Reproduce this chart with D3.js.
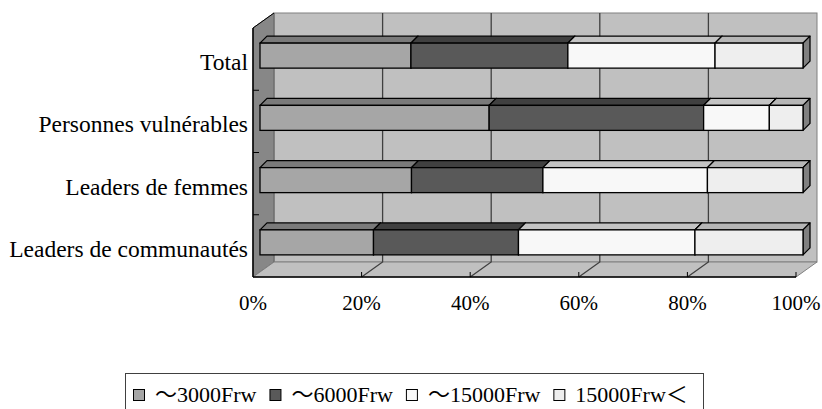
<!DOCTYPE html>
<html>
<head>
<meta charset="utf-8">
<script src="https://cdn.jsdelivr.net/npm/d3@7"></script>
<style>
	body { margin: 0; background: #fff; }
	svg { display: block; }
	text { font-family: "Liberation Serif", "Noto Sans CJK JP", serif; fill: #000; }
</style>
</head>
<body>
<div id="chart"></div>
<script>
var categories = ["Total", "Personnes vulnérables", "Leaders de femmes", "Leaders de communautés"];
var seriesNames = ["～3000Frw", "～6000Frw", "～15000Frw", "15000Frw＜"];
var upTo3000 = [27.8, 42.2, 27.9, 20.9];
var upTo6000 = [28.9, 39.5, 24.2, 26.7];
var upTo15000 = [27.1, 12.1, 30.3, 32.5];
var over15000 = [16.2, 6.2, 17.6, 19.9];
var tickValues = [0, 20, 40, 60, 80, 100];
var tickLabels = ["0%", "20%", "40%", "60%", "80%", "100%"];

var frontColors = ["#a6a6a6", "#595959", "#f8f8f8", "#eeeeee"];
var topColors = ["#7a7a7a", "#404040", "#c4c4c4", "#b6b6b6"];

var width = 822, height = 409;
var wallDx = 21, wallDy = -15;   // depth of the box
var barOffX = 7, barOffY = -3.5; // bar front face offset from front plane
var barDx = 7, barDy = -7;       // bar depth
var barHeight = 25;

var svg = d3.select("#chart")
  .append("svg")
    .attr("width", width)
    .attr("height", height);

var x = d3.scaleLinear().domain([0, 100]).range([253, 796]);
var y = d3.scaleBand().domain(categories).range([28, 277]);

var rows = categories.map(function(c, i) {
	return { cat: c, s0: upTo3000[i], s1: upTo6000[i], s2: upTo15000[i], s3: over15000[i] };
});
var stack = d3.stack().keys(["s0", "s1", "s2", "s3"])(rows);

var x0 = x(0), x1 = x(100), yTop = y.range()[0], yBot = y.range()[1];

//back wall
svg.append("rect")
    .attr("x", x0 + wallDx)
    .attr("y", yTop + wallDy)
    .attr("width", x1 - x0)
    .attr("height", yBot - yTop)
    .style("fill", "#c0c0c0")
    .style("stroke", "#808080")
    .style("stroke-width", "1px");

//left wall
svg.append("polygon")
    .attr("points", [[x0, yTop], [x0 + wallDx, yTop + wallDy], [x0 + wallDx, yBot + wallDy], [x0, yBot]].join(" "))
    .style("fill", "#878787")
    .style("stroke", "#606060")
    .style("stroke-width", "1px");

//floor
svg.append("polygon")
    .attr("points", [[x0, yBot], [x0 + wallDx, yBot + wallDy], [x1 + wallDx, yBot + wallDy], [x1, yBot]].join(" "))
    .style("fill", "#c0c0c0")
    .style("stroke", "#808080")
    .style("stroke-width", "1px");

//gridlines on back wall and floor
svg.selectAll(".grid")
    .data(tickValues.slice(1, -1))
  .enter().append("polyline")
    .attr("class", "grid")
    .attr("points", function(d) {
		return [[x(d), yBot], [x(d) + wallDx, yBot + wallDy], [x(d) + wallDx, yTop + wallDy]].join(" ");
    })
    .style("fill", "none")
    .style("stroke", "#404040")
    .style("stroke-width", "1.3px");

//axis lines
svg.append("line")
    .attr("x1", x0).attr("y1", yTop)
    .attr("x2", x0).attr("y2", yBot)
    .style("stroke", "black")
    .style("stroke-width", "1.5px");
svg.append("line")
    .attr("x1", x0).attr("y1", yTop)
    .attr("x2", x0 + wallDx).attr("y2", yTop + wallDy)
    .style("stroke", "black")
    .style("stroke-width", "1px");
svg.append("line")
    .attr("x1", x0).attr("y1", yBot)
    .attr("x2", x1).attr("y2", yBot)
    .style("stroke", "black")
    .style("stroke-width", "1.5px");

//category ticks
svg.selectAll(".ctick")
    .data(categories.slice(1))
  .enter().append("line")
    .attr("class", "ctick")
    .attr("x1", x0).attr("x2", x0 + 6)
    .attr("y1", function(d) { return y(d); })
    .attr("y2", function(d) { return y(d); })
    .style("stroke", "black")
    .style("stroke-width", "1px");

//value ticks
svg.selectAll(".vtick")
    .data(tickValues.slice(1))
  .enter().append("line")
    .attr("class", "vtick")
    .attr("x1", function(d) { return x(d); })
    .attr("x2", function(d) { return x(d); })
    .attr("y1", yBot - 5).attr("y2", yBot)
    .style("stroke", "black")
    .style("stroke-width", "1px");

//bars
var series = svg.selectAll(".series")
    .data(stack)
  .enter().append("g")
    .attr("class", "series");

var seg = series.selectAll("g")
    .data(function(s, si) { return s.map(function(d) { return { si: si, a: d[0], b: d[1], cat: d.data.cat }; }); })
  .enter().append("g");

function faces(d) {
	var l = x(d.a) + barOffX, r = x(d.b) + barOffX;
	var t = y(d.cat) + y.bandwidth() / 2 + barOffY - barHeight / 2;
	var b = t + barHeight;
	return { l: l, r: r, t: t, b: b };
}

seg.append("polygon")
    .attr("points", function(d) {
		var f = faces(d);
		return [[f.l, f.t], [f.l + barDx, f.t + barDy], [f.r + barDx, f.t + barDy], [f.r, f.t]].join(" ");
    })
    .style("fill", function(d) { return topColors[d.si]; })
    .style("stroke", "black")
    .style("stroke-width", "1.3px")
    .style("stroke-linejoin", "round");
seg.append("polygon")
    .attr("points", function(d) {
		var f = faces(d);
		return [[f.r, f.t], [f.r + barDx, f.t + barDy], [f.r + barDx, f.b + barDy], [f.r, f.b]].join(" ");
    })
    .style("fill", "#808080")
    .style("stroke", "black")
    .style("stroke-width", "1.3px")
    .style("stroke-linejoin", "round");
seg.append("rect")
    .attr("x", function(d) { return faces(d).l; })
    .attr("y", function(d) { return faces(d).t; })
    .attr("width", function(d) { var f = faces(d); return f.r - f.l; })
    .attr("height", barHeight)
    .style("fill", function(d) { return frontColors[d.si]; })
    .style("stroke", "black")
    .style("stroke-width", "1.3px");

//category labels
svg.selectAll(".clabel")
    .data(categories)
  .enter().append("text")
    .attr("class", "clabel")
    .attr("x", 248)
    .attr("y", function(d) { return y(d) + y.bandwidth() / 2 + 11; })
    .attr("text-anchor", "end")
    .style("font-size", "23.5px")
    .text(function(d) { return d; });

//value labels
svg.selectAll(".vlabel")
    .data(tickValues)
  .enter().append("text")
    .attr("class", "vlabel")
    .attr("x", function(d) { return x(d); })
    .attr("y", 310)
    .attr("text-anchor", "middle")
    .style("font-size", "21px")
    .text(function(d, i) { return tickLabels[i]; });

//legend
svg.append("rect")
    .attr("x", 125.5)
    .attr("y", 373.5)
    .attr("width", 578)
    .attr("height", 60)
    .style("fill", "white")
    .style("stroke", "#404040")
    .style("stroke-width", "1px");

var lx = 133;
seriesNames.forEach(function(name, i) {
	svg.append("rect")
	    .attr("x", lx + 0.5)
	    .attr("y", 389.5)
	    .attr("width", 11)
	    .attr("height", 11)
	    .style("fill", frontColors[i])
	    .style("stroke", "black")
	    .style("stroke-width", "1px");
	var t = svg.append("text")
	    .attr("x", lx + 22)
	    .attr("y", 402)
	    .style("font-size", "22px")
	    .text(name);
	lx += 22 + t.node().getComputedTextLength() + 13;
});
</script>
</body>
</html>
